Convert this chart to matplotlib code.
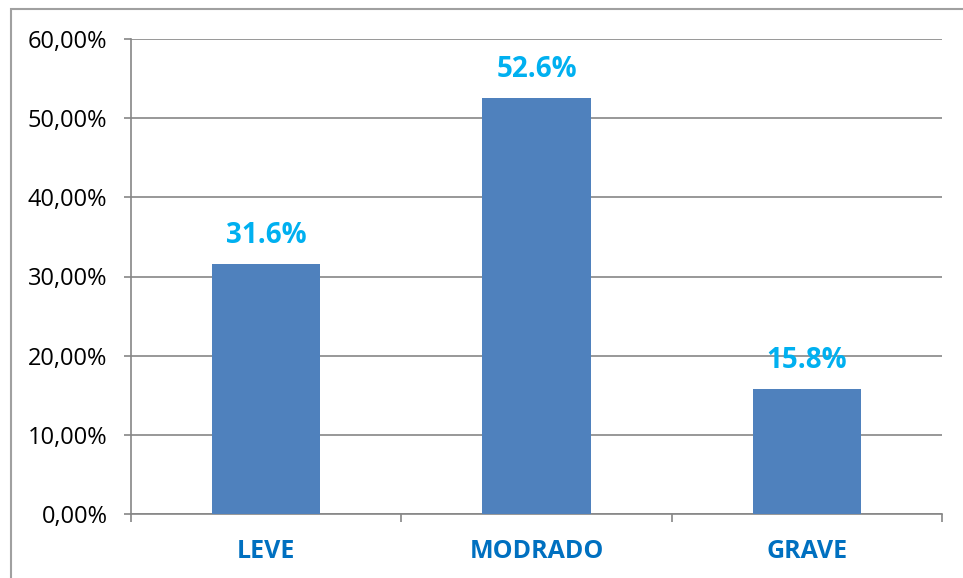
import matplotlib

matplotlib.use("Agg")
import matplotlib.pyplot as plt
from matplotlib.patches import Rectangle
from matplotlib.ticker import FuncFormatter, FixedLocator

categories = ["LEVE", "MODRADO", "GRAVE"]
values = [31.6, 52.6, 15.8]
value_labels = ["31.6%", "52.6%", "15.8%"]
y_ticks = [0, 10, 20, 30, 40, 50, 60]

plt.rcParams["font.family"] = ["Open Sans", "DejaVu Sans"]

BAR_COLOR = "#4F81BD"
GRID_COLOR = "#868686"
CAT_COLOR = "#0070C0"
LABEL_COLOR = "#00B0F0"

fig = plt.figure(figsize=(9.63, 5.78), dpi=100)
fig.patches.append(
    Rectangle((11 / 963, -0.1), 1.2, 1 - 9 / 578 + 0.1, transform=fig.transFigure,
              fill=False, edgecolor="#A0A0A0", linewidth=1.5)
)

ax = fig.add_axes([131 / 963, 64 / 578, 811 / 963, 475 / 578])
x = list(range(len(categories)))
bars = ax.bar(x, values, width=0.4, color=BAR_COLOR, zorder=3)

for bar, text in zip(bars, value_labels):
    ax.annotate(text, xy=(bar.get_x() + bar.get_width() / 2, bar.get_height()),
                xytext=(0, 10), textcoords="offset points", ha="center", va="bottom",
                color=LABEL_COLOR, fontsize=20, fontweight="bold")

ax.set_xlim(-0.5, len(categories) - 0.5)
ax.set_ylim(0, 60)
ax.set_yticks(y_ticks)
ax.yaxis.set_major_formatter(FuncFormatter(lambda v, _: f"{v:.2f}%".replace(".", ",")))
ax.grid(axis="y", color=GRID_COLOR, linewidth=1.2, zorder=0)

# category boundaries get the tick marks, category centres get the labels
ax.xaxis.set_major_locator(FixedLocator([i - 0.5 for i in range(len(categories) + 1)]))
ax.xaxis.set_minor_locator(FixedLocator(x))
ax.set_xticklabels([])
ax.set_xticklabels(categories, minor=True)
ax.tick_params(axis="x", which="major", length=6, width=1.2, color=GRID_COLOR, direction="out")
ax.tick_params(axis="x", which="minor", length=0, pad=18, labelsize=18, labelcolor=CAT_COLOR)
for lbl in ax.get_xticklabels(minor=True):
    lbl.set_fontweight("bold")
ax.tick_params(axis="y", length=5, width=1.2, color=GRID_COLOR, pad=12, labelsize=17)

for side in ("top", "right"):
    ax.spines[side].set_visible(False)
for side in ("left", "bottom"):
    ax.spines[side].set_color(GRID_COLOR)
    ax.spines[side].set_linewidth(1.2)

fig.savefig("out.png", dpi=100)
